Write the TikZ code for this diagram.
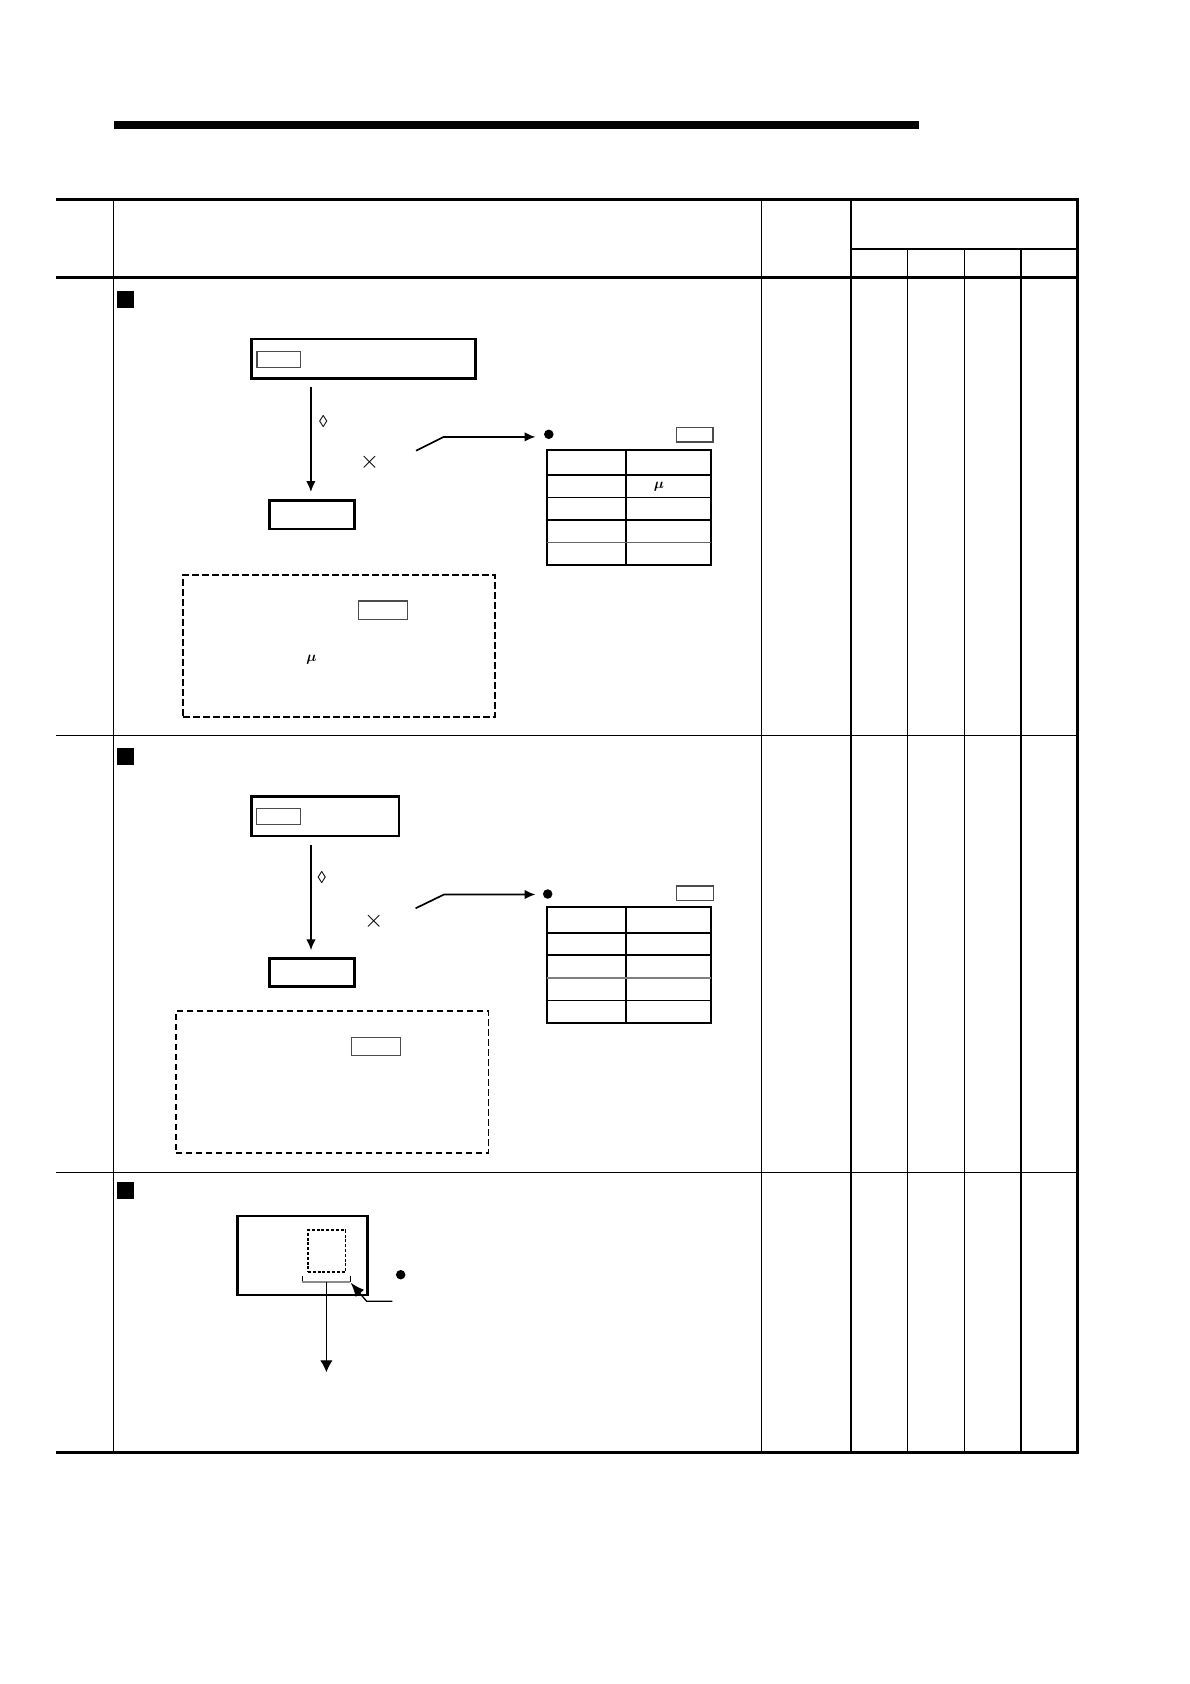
\documentclass[tikz,border=0pt]{standalone}
\usepackage{amsmath}
\usepackage{fontspec}
\usetikzlibrary{arrows.meta}
\newfontfamily\lozfont{Liberation Serif}
\tikzset{
  thickbox/.style={draw,line width=2.6pt,outer sep=0pt},
  tagbox/.style={draw=black!70,line width=1.2pt,outer sep=0pt},
  dashbox/.style={draw,line width=1.7pt,dash pattern=on 6.5pt off 3.5pt,outer sep=0pt},
  bullet/.style={circle,fill,inner sep=0pt,minimum size=9.5pt},
  marker/.style={fill,inner sep=0pt,minimum width=17.5pt,minimum height=17.5pt},
  arrow/.style={line width=1.7pt,-{Latex[length=11pt,width=9.5pt]}},
  thinrule/.style={line width=1.2pt},
  thickrule/.style={line width=3pt},
  glyph/.style={inner sep=0pt}
}
\begin{document}
\begin{tikzpicture}[x=1pt,y=-1pt]
  \useasboundingbox (0,0) rectangle (1190,1684);
  \fill[white] (0,0) rectangle (1190,1684);
  \fill (114,121) rectangle (919,129);
  \draw[line width=2.7pt] (56,199.3) -- (1078.6,199.3);
  \draw[thickrule] (56,277.3) -- (1077.3,277.3);
  \draw[line width=3.3pt] (56,1452.3) -- (1079,1452.3);
  \draw[line width=1.7pt] (851,249) -- (1077.3,249);
  \foreach \y in {735.3,1172.3} \draw[thinrule] (56,\y) -- (1077.3,\y);
  \foreach \x in {113.3,761.6} \draw[thinrule] (\x,199.3) -- (\x,1452.3);
  \draw[line width=2pt] (851,199.3) -- (851,1452.3);
  \draw[thinrule] (907.5,249) -- (907.5,1452.3);
  \foreach \x in {964.5,1021} \draw[line width=1.5pt] (\x,249) -- (\x,1452.3);
  \draw[line width=2.7pt] (1077.3,199.3) -- (1077.3,1452.3);

  \node[marker] (markone) at (125.5,299.5) {};
  \node[thickbox,minimum width=224pt,minimum height=39.7pt] (inone) at (363.2,358.9) {};
  \node[tagbox,minimum width=43.3pt,minimum height=16pt] (tagone) at (278.7,359.3) {};
  \node[thickbox,minimum width=85.2pt,minimum height=28.4pt] (outone) at (311.9,514.8) {};
  \coordinate (startone) at (310.9,387.3);
  \draw[arrow] (startone) -- (startone |- outone.north) [shorten >=8.5pt];
  \node[glyph] (lozone) at (323.3,422) {\fontsize{17}{17}\lozfont ◊};
  \node[glyph] (timesone) at (369.5,462.7) {\fontsize{23}{23}\selectfont$\times$};
  \coordinate (leadone) at (416,450.7);
  \coordinate (bendone) at (443.7,436.9);
  \coordinate (tipone) at (535.5,436.9);
  \draw[arrow] (leadone) -- (bendone) -- (tipone);
  \node[bullet] (dotone) at (548.8,434.3) {};
  \node[tagbox,minimum width=36.7pt,minimum height=14.4pt] (keyone) at (694.6,434.7) {};
  \draw[line width=2pt] (546.5,449.6) rectangle (711,565.4);
  \draw[line width=2pt] (625.7,449.6) -- (625.7,565.4);
  \draw[line width=2pt] (546.5,475) -- (711,475);
  \foreach \y in {497.3,520} \draw[thinrule] (546.5,\y) -- (711,\y);
  \draw[thinrule,black!60] (546.5,542.7) -- (711,542.7);
  \node[glyph] (muone) at (659,486.7) {\fontsize{15}{15}\selectfont$\boldsymbol{\mu}$};
  \node[dashbox,minimum width=312pt,minimum height=141.7pt] (noteone) at (339,645.9) {};
  \node[tagbox,minimum width=49pt,minimum height=18.3pt] (tagnoteone) at (383.1,610.2) {};
  \node[glyph] (munote) at (311.5,660) {\fontsize{15}{15}\selectfont$\boldsymbol{\mu}$};

  \node[marker] (marktwo) at (125.5,756.5) {};
  \node[thickbox,minimum width=147.8pt,minimum height=39.7pt] (intwo) at (325.2,816.3) {};
  \node[tagbox,minimum width=44pt,minimum height=16pt] (tagtwo) at (278.5,816.8) {};
  \node[thickbox,minimum width=85.2pt,minimum height=28.4pt] (outtwo) at (312,972.5) {};
  \coordinate (starttwo) at (311,845);
  \draw[arrow] (starttwo) -- (starttwo |- outtwo.north) [shorten >=8pt];
  \node[glyph] (loztwo) at (321.9,877.5) {\fontsize{17}{17}\lozfont ◊};
  \node[glyph] (timestwo) at (373.7,921.5) {\fontsize{23}{23}\selectfont$\times$};
  \coordinate (leadtwo) at (415.6,908.3);
  \coordinate (bendtwo) at (444,894.5);
  \coordinate (tiptwo) at (535.5,894.5);
  \draw[arrow] (leadtwo) -- (bendtwo) -- (tiptwo);
  \node[bullet] (dottwo) at (547.7,894) {};
  \node[tagbox,minimum width=37pt,minimum height=14.3pt] (keytwo) at (694.8,893.2) {};
  \draw[line width=2pt] (546.5,907.3) rectangle (711,1023);
  \draw[line width=2pt] (625.7,907.3) -- (625.7,1023);
  \draw[line width=1.7pt] (546.5,932.7) -- (711,932.7);
  \foreach \y in {955,1000.7} \draw[thinrule] (546.5,\y) -- (711,\y);
  \draw[thinrule,black!50] (546.5,978) -- (711,978);
  \node[dashbox,minimum width=312.7pt,minimum height=142pt] (notetwo) at (332,1081.9) {};
  \node[tagbox,minimum width=49.3pt,minimum height=18.7pt] (tagnotetwo) at (376,1046.5) {};

  \node[marker] (markthree) at (125.5,1190.5) {};
  \node[thickbox,minimum width=130.4pt,minimum height=79pt] (unit) at (302.5,1255.5) {};
  \node[dashbox,line width=1.5pt,dash pattern=on 3pt off 1.8pt,minimum width=37.5pt,minimum height=42.2pt] (slot) at (326.7,1251) {};
  \coordinate (bracketl) at (302.3,1276.3);
  \coordinate (bracketr) at (350.3,1276.3);
  \coordinate (bracketm) at (326.4,1282);
  \draw[line width=1pt] (bracketl) -- ++(0,5.7);
  \draw[line width=1pt] (bracketr) -- ++(0,5.7);
  \draw[line width=1.5pt,black!45] (bracketl |- bracketm) -- (bracketr |- bracketm);
  \coordinate (cableend) at (326.4,1372.3);
  \draw[line width=1.2pt,-{Latex[length=12pt,width=12.5pt]}] (bracketm) -- (cableend);
  \node[bullet] (dotthree) at (400.7,1274.7) {};
  \coordinate (leadthree) at (392.3,1301.3);
  \coordinate (bendthree) at (366.7,1301.3);
  \coordinate (tipthree) at (350.7,1282.7);
  \draw[line width=1.3pt,-{Latex[length=14pt,width=11pt]}] (leadthree) -- (bendthree) -- (tipthree);
\end{tikzpicture}
\end{document}
